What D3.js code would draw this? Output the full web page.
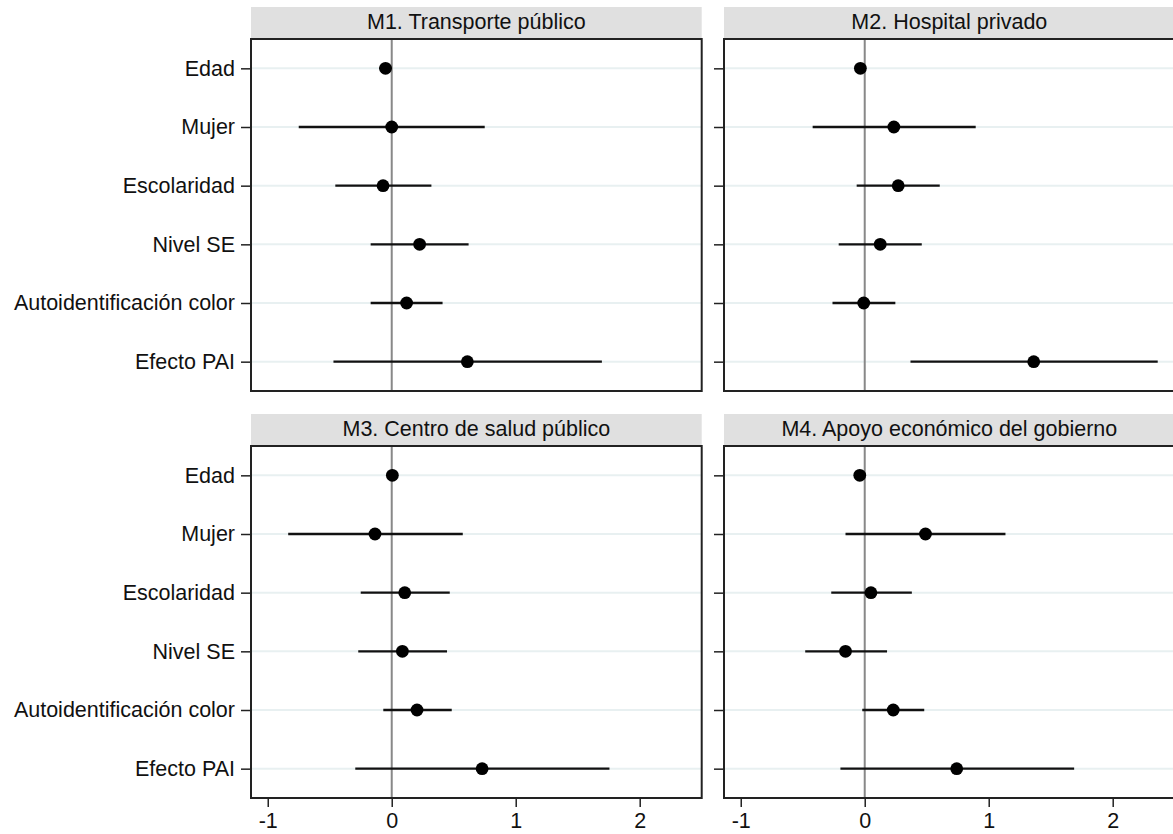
<!DOCTYPE html>
<html>
<head>
<meta charset="utf-8">
<script src="https://cdn.jsdelivr.net/npm/d3@7"></script>
<style>
  html, body { margin: 0; padding: 0; background: #fff; }
  svg { display: block; font-family: "Liberation Sans", Arial, sans-serif; }
</style>
</head>
<body>
<svg id="chart" width="1173" height="834"></svg>
<script>
// ---- data ----
const categories = ["Edad", "Mujer", "Escolaridad", "Nivel SE", "Autoidentificación color", "Efecto PAI"];
const panelTitles = ["M1. Transporte público", "M2. Hospital privado", "M3. Centro de salud público", "M4. Apoyo económico del gobierno"];
const xTicks = [-1, 0, 1, 2];
const xTickLabels = ["-1", "0", "1", "2"];

const m1Est = [-0.05, 0.00, -0.07, 0.225, 0.12, 0.61];
const m1Lo  = [-0.10, -0.75, -0.455, -0.17, -0.17, -0.47];
const m1Hi  = [0.00, 0.75, 0.32, 0.62, 0.41, 1.695];

const m2Est = [-0.035, 0.235, 0.27, 0.125, -0.008, 1.363];
const m2Lo  = [-0.06, -0.42, -0.065, -0.21, -0.26, 0.369];
const m2Hi  = [-0.01, 0.895, 0.605, 0.46, 0.247, 2.363];

const m3Est = [0.005, -0.135, 0.105, 0.086, 0.204, 0.729];
const m3Lo  = [-0.02, -0.835, -0.25, -0.27, -0.068, -0.294];
const m3Hi  = [0.03, 0.573, 0.468, 0.446, 0.484, 1.756];

const m4Est = [-0.04, 0.49, 0.05, -0.155, 0.23, 0.742];
const m4Lo  = [-0.07, -0.155, -0.27, -0.48, -0.02, -0.196];
const m4Hi  = [-0.01, 1.135, 0.38, 0.18, 0.48, 1.689];

const models = [
  { est: m1Est, lo: m1Lo, hi: m1Hi },
  { est: m2Est, lo: m2Lo, hi: m2Hi },
  { est: m3Est, lo: m3Lo, hi: m3Hi },
  { est: m4Est, lo: m4Lo, hi: m4Hi }
];

// ---- layout ----
const svg = d3.select("#chart");
const FONT = 21.5;
const panelW = 450.7, panelH = 352, headerH = 32;
const colX = [251, 724];
const rowY = [39, 446];

const x = d3.scaleLinear().domain([-1.135, 2.50]).range([0, panelW]);
const y = d3.scalePoint().domain(categories).range([0, panelH]).padding(0.5);

models.forEach((m, i) => {
  const col = i % 2, row = Math.floor(i / 2);
  const g = svg.append("g").attr("transform", `translate(${colX[col]},${rowY[row]})`);

  // header strip
  g.append("rect")
    .attr("x", 0).attr("y", -headerH)
    .attr("width", panelW).attr("height", headerH - 1)
    .attr("fill", "#e0e0e0");
  g.append("text")
    .attr("x", panelW / 2).attr("y", -headerH + 22)
    .attr("text-anchor", "middle")
    .attr("font-size", FONT)
    .attr("fill", "#111")
    .text(panelTitles[i]);

  // grid lines
  g.selectAll("line.grid").data(categories).enter().append("line")
    .attr("class", "grid")
    .attr("x1", 0).attr("x2", panelW)
    .attr("y1", d => y(d)).attr("y2", d => y(d))
    .attr("stroke", "#e8f0f1").attr("stroke-width", 2);

  // zero line
  g.append("line")
    .attr("x1", x(0)).attr("x2", x(0))
    .attr("y1", 0).attr("y2", panelH)
    .attr("stroke", "#888").attr("stroke-width", 2);

  const rows = categories.map((c, k) => ({ c, est: m.est[k], lo: m.lo[k], hi: m.hi[k] }));

  // CI lines
  g.selectAll("line.ci").data(rows).enter().append("line")
    .attr("class", "ci")
    .attr("x1", d => x(d.lo)).attr("x2", d => x(d.hi))
    .attr("y1", d => y(d.c)).attr("y2", d => y(d.c))
    .attr("stroke", "#111").attr("stroke-width", 2.3);

  // points
  g.selectAll("circle.pt").data(rows).enter().append("circle")
    .attr("class", "pt")
    .attr("cx", d => x(d.est)).attr("cy", d => y(d.c))
    .attr("r", 6.4).attr("fill", "#000");

  // box
  g.append("rect")
    .attr("x", 0).attr("y", 0)
    .attr("width", panelW).attr("height", panelH)
    .attr("fill", "none").attr("stroke", "#222").attr("stroke-width", 2);

  // y axis
  const yAxis = d3.axisLeft(y).tickSize(10).tickPadding(6);
  const ya = g.append("g").call(yAxis);
  ya.select(".domain").remove();
  ya.selectAll(".tick line").attr("stroke", "#222").attr("stroke-width", 1.5);
  ya.selectAll(".tick text")
    .attr("font-size", FONT).attr("font-family", "Liberation Sans, Arial, sans-serif")
    .attr("fill", "#111");
  if (col === 1) ya.selectAll(".tick text").remove();

  // x axis (bottom row only)
  if (row === 1) {
    const xAxis = d3.axisBottom(x).tickValues(xTicks)
      .tickFormat((d, k) => xTickLabels[k]).tickSize(9).tickPadding(6);
    const xa = g.append("g").attr("transform", `translate(0,${panelH})`).call(xAxis);
    xa.select(".domain").remove();
    xa.selectAll(".tick line").attr("stroke", "#222").attr("stroke-width", 1.5);
    xa.selectAll(".tick text")
      .attr("font-size", FONT).attr("font-family", "Liberation Sans, Arial, sans-serif")
      .attr("fill", "#111");
  }
});
</script>
</body>
</html>
